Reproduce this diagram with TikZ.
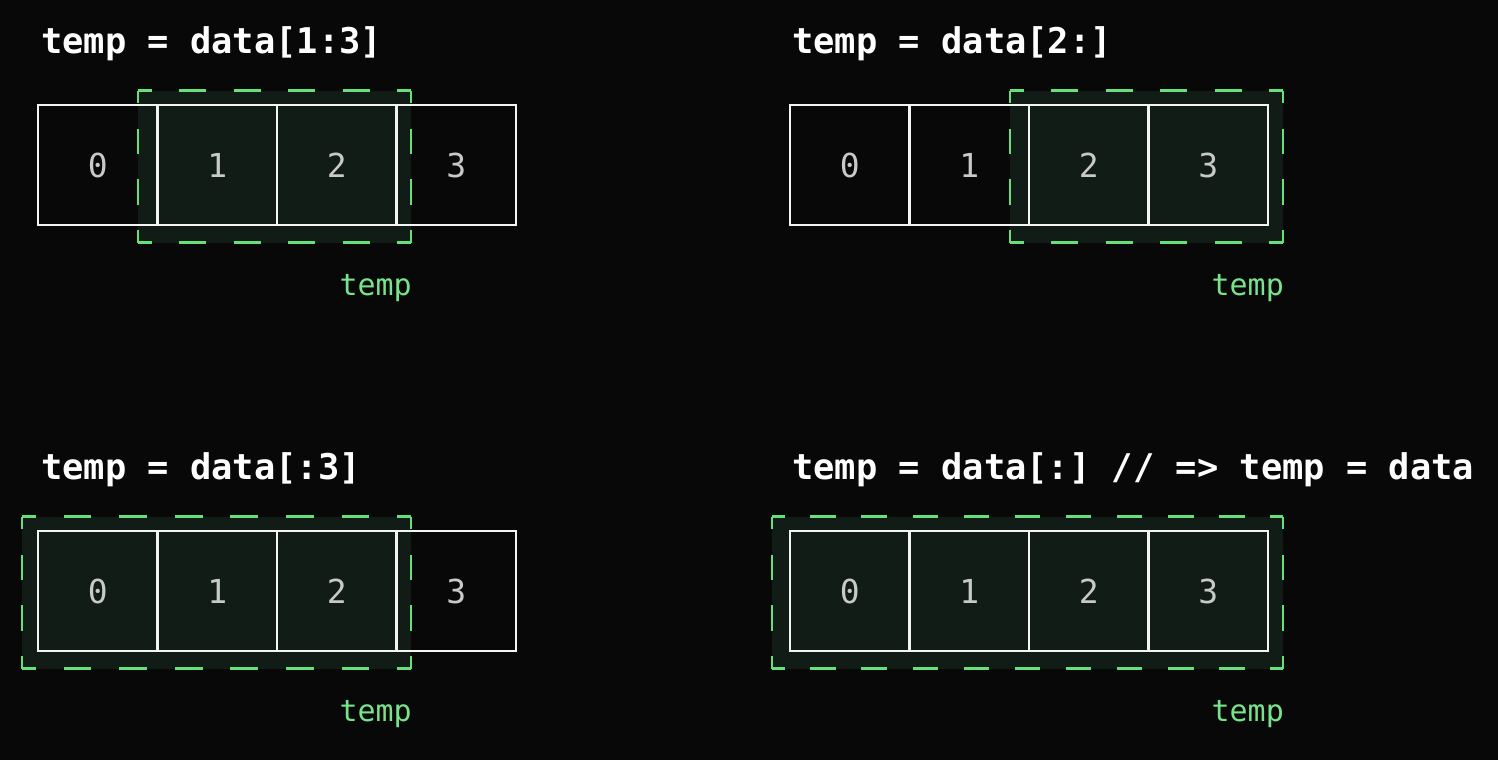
\documentclass[tikz,border=0pt]{standalone}
\usepackage{fontspec}
\setmonofont{DejaVu Sans Mono}
\definecolor{bg}{HTML}{080808}
\definecolor{boxfill}{HTML}{121C16}
\definecolor{dashgreen}{HTML}{66E07A}
\definecolor{lblgreen}{HTML}{78E38A}
\definecolor{digit}{HTML}{C8CAC8}
\definecolor{cellline}{HTML}{F4F4F4}
\tikzset{
  cell/.style={draw=cellline, line width=2.8pt, minimum width=119.5pt, minimum height=120pt,
    inner sep=0pt, text=digit, font=\ttfamily\fontsize{33}{36}\selectfont},
  head/.style={text=white, inner sep=0pt, anchor=base west, font=\ttfamily\bfseries\fontsize{35.4}{40}\selectfont},
  lbl/.style={text=lblgreen, inner sep=0pt, anchor=base east, font=\ttfamily\fontsize{30}{34}\selectfont},
  dashline/.style={draw=dashgreen, line width=2.6pt, line cap=square},
}
\newcommand\selfill[4]{\fill[boxfill] (#1,#2) rectangle (#3,#4);}
\newcommand\seledges[4]{%
  \pgfmathsetmacro\hlen{#3-#1}\pgfmathsetmacro\hn{floor(\hlen/50)}%
  \pgfmathsetmacro\hd{\hlen/\hn/2}\pgfmathsetmacro\hp{\hd/2}%
  \pgfmathsetmacro\vlen{#4-#2}\pgfmathsetmacro\vn{floor(\vlen/50)}%
  \pgfmathsetmacro\vd{\vlen/\vn/2}\pgfmathsetmacro\vp{\vd/2}%
  \draw[dashline, dash pattern=on \hd pt off \hd pt, dash phase=\hp pt] (#1,#2) -- (#3,#2);
  \draw[dashline, dash pattern=on \hd pt off \hd pt, dash phase=\hp pt] (#1,#4) -- (#3,#4);
  \draw[dashline, dash pattern=on \vd pt off \vd pt, dash phase=\vp pt] (#1,#2) -- (#1,#4);
  \draw[dashline, dash pattern=on \vd pt off \vd pt, dash phase=\vp pt] (#3,#2) -- (#3,#4);
}
\begin{document}
\begin{tikzpicture}[x=1pt, y=-1pt]
\fill[bg] (0,0) rectangle (1498,760);
\useasboundingbox (0,0) rectangle (1498,760);

% ---------- panel 1 ----------
\node[head] (h1) at (41,53) {temp = data[1:3]};
\selfill{138}{90.5}{411}{242.5}
\foreach \i/\cx in {0/97.75,1/217.25,2/336.75,3/456.25}
  \node[cell] (a\i) at (\cx,165) {\i};
\seledges{138}{90.5}{411}{242.5}
\node[lbl] (l1) at (412,295) {temp};

% ---------- panel 2 ----------
\node[head] (h2) at (792,53) {temp = data[2:]};
\selfill{1010}{90.5}{1283}{242.5}
\foreach \i/\cx in {0/849.75,1/969.25,2/1088.75,3/1208.25}
  \node[cell] (b\i) at (\cx,165) {\i};
\seledges{1010}{90.5}{1283}{242.5}
\node[lbl] (l2) at (1284,295) {temp};

% ---------- panel 3 ----------
\node[head] (h3) at (41,479) {temp = data[:3]};
\selfill{22}{516.5}{411}{668.5}
\foreach \i/\cx in {0/97.75,1/217.25,2/336.75,3/456.25}
  \node[cell] (c\i) at (\cx,591) {\i};
\seledges{22}{516.5}{411}{668.5}
\node[lbl] (l3) at (412,721) {temp};

% ---------- panel 4 ----------
\node[head] (h4) at (792,479) {temp = data[:] // => temp = data};
\selfill{772}{516.5}{1283}{668.5}
\foreach \i/\cx in {0/849.75,1/969.25,2/1088.75,3/1208.25}
  \node[cell] (d\i) at (\cx,591) {\i};
\seledges{772}{516.5}{1283}{668.5}
\node[lbl] (l4) at (1284,721) {temp};
\end{tikzpicture}
\end{document}
